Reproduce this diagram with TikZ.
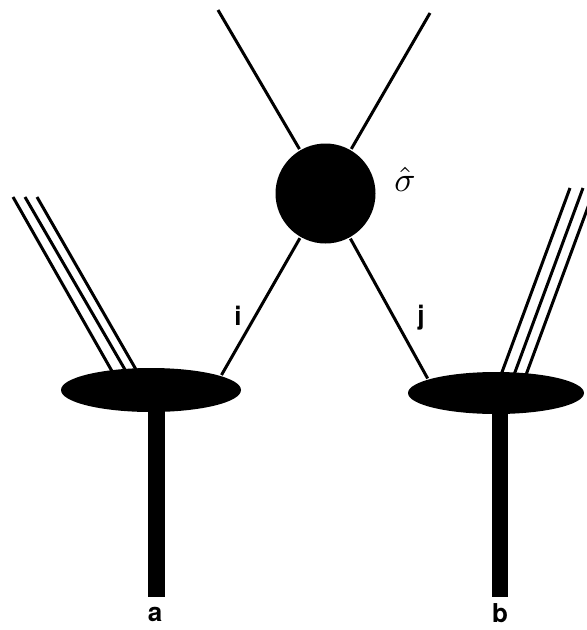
\documentclass[tikz,border=0pt]{standalone}
\usepackage{graphicx}
\usepackage{amsmath}
\usepackage{fontspec}
\setsansfont{TeX Gyre Heros}
\usetikzlibrary{shapes.geometric}
\begin{document}
\begin{tikzpicture}[x=1pt,y=-1pt,line width=3pt,
  blob/.style={ellipse,fill=black,draw=none,inner sep=0pt,minimum width=180pt,minimum height=44pt},
  hard/.style={circle,fill=black,draw=none,inner sep=0pt,minimum size=100pt},
  bar/.style={rectangle,fill=black,draw=none,inner sep=0pt,anchor=north},
  lab/.style={font=\sffamily\bfseries\fontsize{26}{28}\selectfont,inner sep=0pt}]
\useasboundingbox (0,0) rectangle (587,630);
\clip (0,0) rectangle (587,630);
% free ends
\coordinate (tl) at (218,10);
\coordinate (tr) at (430,13);
\coordinate (la1) at (13,197);  \coordinate (lb1) at (117,380);
\coordinate (la2) at (25,197);  \coordinate (lb2) at (131,380);
\coordinate (la3) at (37,197);  \coordinate (lb3) at (142,380);
\coordinate (ra1) at (570,188); \coordinate (rb1) at (498,383);
\coordinate (ra2) at (583,188); \coordinate (rb2) at (511,383);
\coordinate (ra3) at (595,188); \coordinate (rb3) at (523,383);
% jets
\draw (la1) -- (lb1); \draw (la2) -- (lb2); \draw (la3) -- (lb3);
\draw (ra1) -- (rb1); \draw (ra2) -- (rb2); \draw (ra3) -- (rb3);
% nodes
\node[hard] (sig) at (325.5,193.5) {};
\node[blob] (ea) at (151,390) {};
\node[blob,minimum width=176pt,minimum height=42pt] (eb) at (496,393) {};
\node[bar,minimum width=17pt,minimum height=205pt] (pa) at (156,390) {};
\node[bar,minimum width=16pt,minimum height=202pt] (pb) at (500,393) {};
% connectors
\draw (tl) -- (sig);
\draw (tr) -- (sig);
\draw (sig) -- (ea.12);
\draw (sig) -- (eb.168);
% labels
\node[lab] (li) at (238,316) {i};
\node[lab] (lj) at (421,318) {j};
\node[lab] (la) at (155,614) {a};
\node[lab] (lb) at (500,613) {b};
\node[inner sep=0pt] (ls) at (405,179) {\scalebox{3.5}{$\hat\sigma$}};
\end{tikzpicture}
\end{document}
